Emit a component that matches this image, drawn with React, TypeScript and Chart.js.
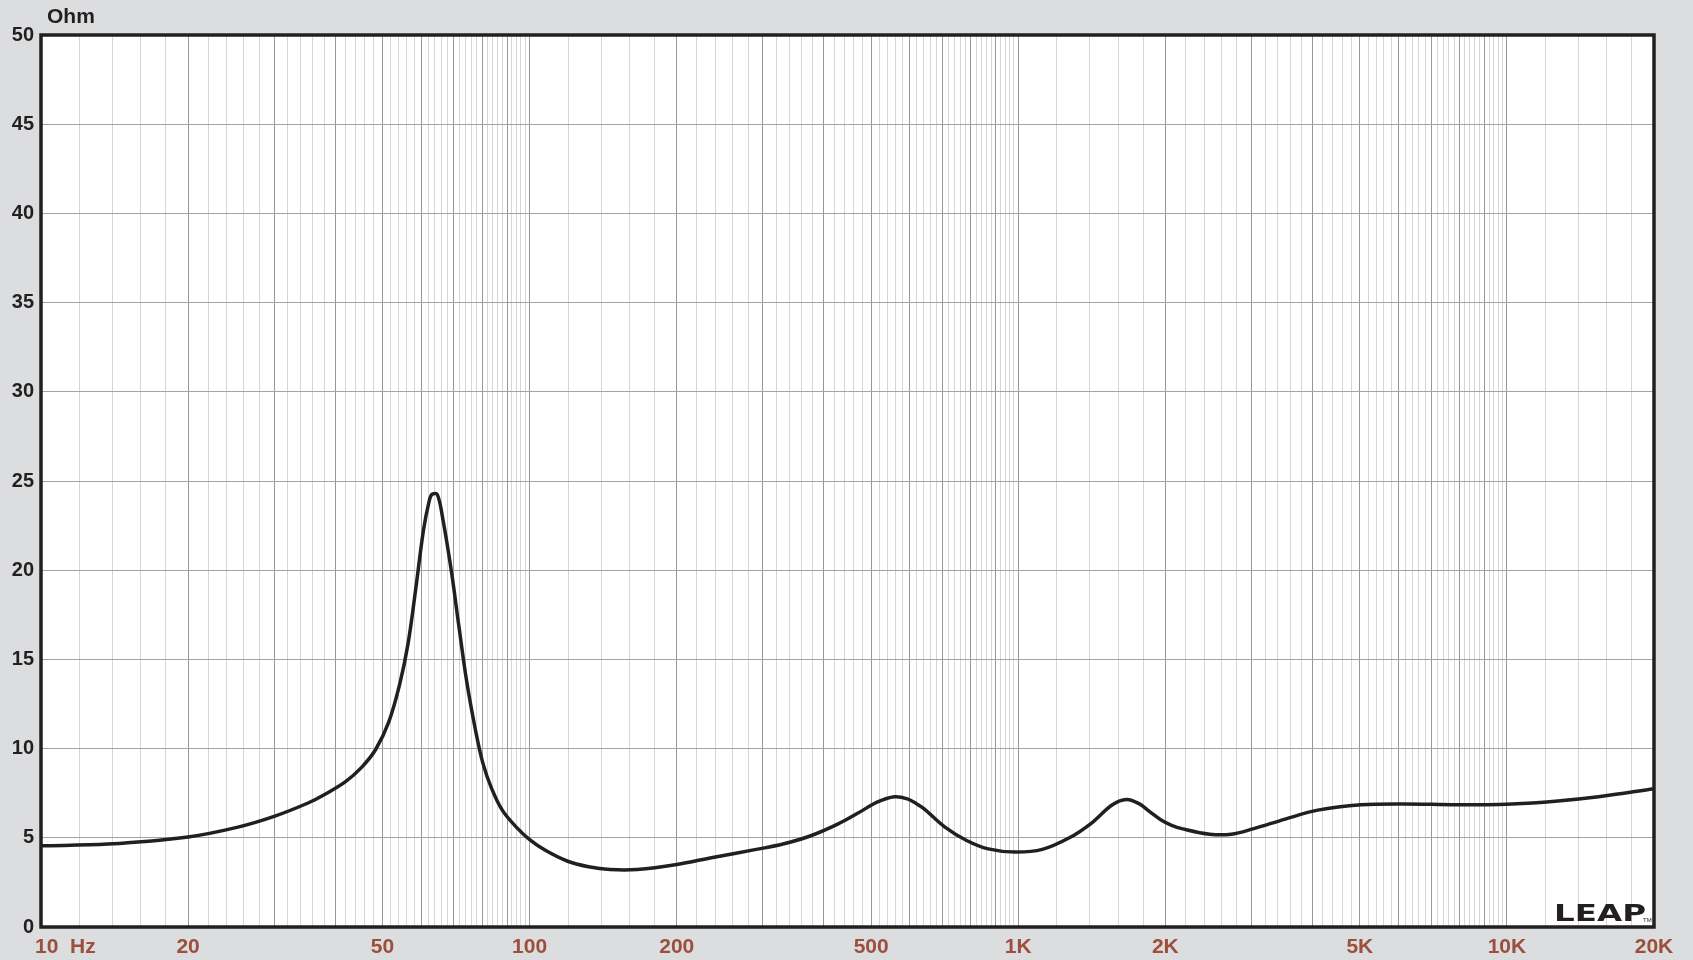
import React, { useEffect, useRef } from 'react';
import { Chart, registerables } from 'chart.js';

Chart.register(...registerables);

// Frequency (Hz) and impedance (Ohm)
const FREQ_HZ = [
  10, 13.7, 20, 25.3, 30, 35.2, 37.9, 42, 45.3, 48.4, 51.5, 54.2, 56.4, 58.5, 60.6, 62.2, 63.1, 64.7,
  66.4, 69.2, 71.7, 74.3, 77.4, 80.2, 83.5, 87.9, 93.9, 100, 107.7, 119.3, 132, 146, 166, 200, 237,
  291, 330, 375, 426, 471, 514, 558, 593, 620, 640, 708, 784, 868, 985, 1120, 1272, 1408, 1558, 1665,
  1770, 1860, 1960, 2060, 2170, 2465, 2729, 3021, 3519, 4101, 5024, 6161, 7946, 10246, 12561, 15396,
  20000,
];
const IMPEDANCE_OHM = [
  4.55, 4.65, 5.05, 5.6, 6.2, 6.95, 7.4, 8.15, 8.95, 9.95, 11.5, 13.6, 15.9, 19.0, 22.2, 23.8, 24.25,
  24.25, 22.9, 19.9, 16.8, 13.8, 11.1, 9.2, 7.8, 6.55, 5.6, 4.9, 4.3, 3.7, 3.38, 3.22, 3.22, 3.5, 3.9,
  4.35, 4.65, 5.1, 5.75, 6.4, 7.0, 7.3, 7.18, 6.9, 6.65, 5.6, 4.85, 4.38, 4.2, 4.35, 5.0, 5.8, 6.85,
  7.15, 6.9, 6.45, 6.0, 5.7, 5.5, 5.2, 5.2, 5.5, 6.05, 6.55, 6.85, 6.9, 6.85, 6.9, 7.05, 7.3, 7.75,
];

const X_MIN = 10;
const X_MAX = 20000;
const Y_MIN = 0;
const Y_MAX = 50;
const Y_STEP = 5;

const X_LABEL_VALUES = [10, 20, 50, 100, 200, 500, 1000, 2000, 5000, 10000, 20000];
const X_LABEL_TEXTS = ['10  Hz', '20', '50', '100', '200', '500', '1K', '2K', '5K', '10K', '20K'];
const Y_UNIT = 'Ohm';
const LOGO = 'LEAP';

function gridValues(): number[] {
  const out: number[] = [];
  for (let d = 10; d <= 10000; d *= 10) {
    for (let k = 0; k < 45; k++) {
      const f = Math.round(d * (1 + 0.2 * k) * 1000) / 1000;
      if (f <= X_MAX) out.push(f);
    }
  }
  return out;
}

function isMajor(v: number): boolean {
  const d = Math.pow(10, Math.floor(Math.log10(v) + 1e-9));
  const r = v / d;
  return Math.abs(r - Math.round(r)) < 1e-6;
}

const FONT = '"Liberation Sans", Arial, sans-serif';

const decorPlugin = {
  id: 'decor',
  beforeDraw(chart: any) {
    const { ctx, chartArea: a } = chart;
    ctx.save();
    ctx.fillStyle = '#ffffff';
    ctx.fillRect(a.left, a.top, a.right - a.left, a.bottom - a.top);
    ctx.restore();
  },
  afterDraw(chart: any) {
    const { ctx, chartArea: a } = chart;
    const xs = chart.scales.x;
    ctx.save();
    // border
    ctx.strokeStyle = '#231f20';
    ctx.lineWidth = 3.5;
    ctx.strokeRect(a.left, a.top, a.right - a.left, a.bottom - a.top);

    // x labels
    ctx.fillStyle = '#9b4f3c';
    ctx.font = `bold 21px ${FONT}`;
    ctx.textBaseline = 'middle';
    X_LABEL_VALUES.forEach((v, i) => {
      const px = xs.getPixelForValue(v);
      if (i === 0) {
        ctx.textAlign = 'left';
        ctx.fillText(X_LABEL_TEXTS[i], px - 6, 947);
      } else {
        ctx.textAlign = 'center';
        ctx.fillText(X_LABEL_TEXTS[i], px, 947);
      }
    });

    // unit label
    ctx.fillStyle = '#231f20';
    ctx.textAlign = 'left';
    ctx.font = `bold 21px ${FONT}`;
    ctx.fillText(Y_UNIT, 47, 17);

    // logo
    ctx.font = `bold 22px "DejaVu Sans", ${FONT}`;
    ctx.textBaseline = 'alphabetic';
    const w = ctx.measureText(LOGO).width;
    ctx.translate(a.right - 100, a.bottom - 6);
    ctx.scale(92 / w, 1.05);
    ctx.fillText(LOGO, 0, 0);
    ctx.restore();
    ctx.save();
    ctx.fillStyle = '#231f20';
    ctx.font = `6px ${FONT}`;
    ctx.fillText('TM', a.right - 11, a.bottom - 5);
    ctx.restore();
  },
};

export default function App() {
  const canvasRef = useRef<HTMLCanvasElement | null>(null);

  useEffect(() => {
    if (!canvasRef.current) return;
    const data = FREQ_HZ.map((f, i) => ({ x: f, y: IMPEDANCE_OHM[i] }));
    const grid = gridValues();
    const chart = new Chart(canvasRef.current, {
      type: 'line',
      data: {
        datasets: [
          {
            data,
            borderColor: '#231f20',
            borderWidth: 3.5,
            pointRadius: 0,
            fill: false,
            tension: 0.35,
          },
        ],
      },
      options: {
        animation: false,
        responsive: true,
        maintainAspectRatio: false,
        layout: { padding: { top: 35, right: 39, bottom: 0, left: 0 } },
        plugins: { legend: { display: false }, tooltip: { enabled: false } },
        scales: {
          x: {
            type: 'logarithmic',
            min: X_MIN,
            max: X_MAX,
            afterBuildTicks: (s: any) => {
              s.ticks = grid.map((v) => ({ value: v }));
            },
            afterFit: (s: any) => {
              s.height = 33;
            },
            ticks: { display: false },
            border: { display: false },
            grid: {
              drawTicks: false,
              lineWidth: 1,
              color: (c: any) => {
                const v = c.tick ? c.tick.value : 0;
                return isMajor(v) ? '#98989c' : '#d6d6d6';
              },
            },
          },
          y: {
            min: Y_MIN,
            max: Y_MAX,
            afterFit: (s: any) => {
              s.width = 41;
            },
            ticks: {
              stepSize: Y_STEP,
              padding: 7,
              color: '#231f20',
              font: { family: FONT, size: 20, weight: 'bold' },
            },
            border: { display: false },
            grid: { drawTicks: false, lineWidth: 1, color: '#a3a3a3' },
          },
        },
      },
      plugins: [decorPlugin],
    } as any);
    return () => chart.destroy();
  }, []);

  return (
    <div
      style={{
        position: 'absolute',
        left: 0,
        top: 0,
        width: 1693,
        height: 960,
        background: '#dcdddf',
      }}
    >
      <canvas ref={canvasRef} />
    </div>
  );
}
